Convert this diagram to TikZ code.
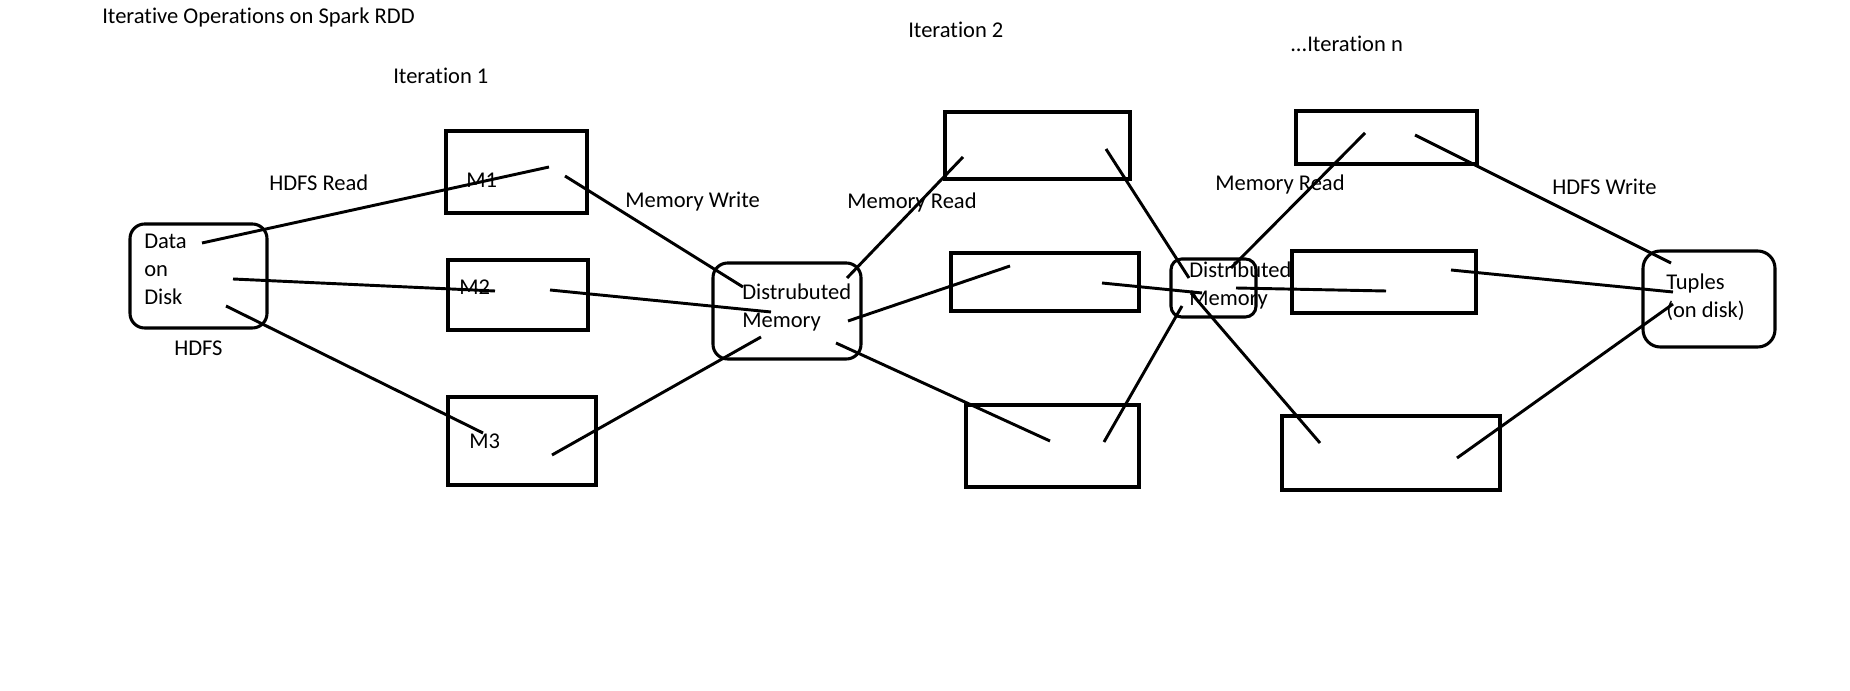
\documentclass[tikz,border=0pt]{standalone}
\usepackage{fontspec}
\setmainfont{Carlito}[Ligatures=NoCommon]
\usetikzlibrary{fit}
\begin{document}
\begin{tikzpicture}[x=0.75pt,y=-0.75pt,
  box/.style={draw, line width=2.3pt, inner sep=0pt},
  rbox/.style={box, rounded corners=11pt},
  lbl/.style={inner sep=0pt, anchor=base west, font=\fontsize{16.9}{21}\selectfont},
  ml/.style={lbl, align=left},
  wire/.style={line width=2.2pt}]
\useasboundingbox[fill=white] (0,0) rectangle (1850,691);
% boxes
\node[rbox, fit={(130,224) (267,328)}] (disk) {};
\node[box, fit={(446,131) (587,213)}] (m1) {};
\node[box, fit={(448,260) (588,330)}] (m2) {};
\node[box, fit={(448,397) (596,485)}] (m3) {};
\node[rbox, fit={(713,263) (861,359)}] (dm) {};
\node[box, fit={(945,112) (1130,179)}] (t2) {};
\node[box, fit={(951,253) (1139,311)}] (c2) {};
\node[box, fit={(966,405) (1139,487)}] (b2) {};
\node[rbox, rounded corners=8pt, fit={(1171,259) (1256,317)}] (dm2) {};
\node[box, fit={(1296,111) (1477,164)}] (tn) {};
\node[box, fit={(1292,251) (1476,313)}] (cn) {};
\node[box, fit={(1282,416) (1500,490)}] (bn) {};
\node[rbox, rounded corners=13pt, fit={(1643,251) (1775,347)}] (tup) {};
% texts (multi-line nodes are placed by the baseline of their last line)
\node[lbl] (title) at (102,24) {Iterative Operations on Spark RDD};
\node[lbl] (it1) at (393,84) {Iteration 1};
\node[lbl] (it2) at (908,38) {Iteration 2};
\node[lbl] (itn) at (1290,52) {...Iteration n};
\node[lbl] (hr) at (269,191) {HDFS Read};
\node[ml] (diskt) at (144,305) {Data\\on\\Disk};
\node[lbl] (hdfs) at (174,356) {HDFS};
\node[lbl] (m1t) at (466,188) {M1};
\node[lbl] (m2t) at (459,295) {M2};
\node[lbl] (m3t) at (469,449) {M3};
\node[lbl] (mw) at (625,208) {Memory Write};
\node[lbl] (mr1) at (847,209) {Memory Read};
\node[ml] (dmt) at (742,328) {Distrubuted\\Memory};
\node[ml] (dm2t) at (1189,306) {Distributed\\Memory};
\node[lbl] (mr2) at (1215,191) {Memory Read};
\node[lbl] (hw) at (1552,195) {HDFS Write};
\node[ml] (tupt) at (1666,318) {Tuples\\(on disk)};
% connector end points
\coordinate (a1) at (202,243); \coordinate (a2) at (549,167);
\coordinate (b1) at (233,279); \coordinate (b2e) at (495,291);
\coordinate (c1) at (226,306); \coordinate (c2e) at (483,433);
\coordinate (d1) at (565,176); \coordinate (d2) at (743,287);
\coordinate (e1) at (550,290); \coordinate (e2) at (771,312);
\coordinate (f1) at (552,455); \coordinate (f2) at (761,337);
\coordinate (g1) at (847,278); \coordinate (g2) at (963,157);
\coordinate (h1) at (848,321); \coordinate (h2) at (1010,266);
\coordinate (i1) at (836,343); \coordinate (i2) at (1050,441);
\coordinate (j1) at (1106,149); \coordinate (j2) at (1189,278);
\coordinate (k1) at (1102,283); \coordinate (k2) at (1202,293);
\coordinate (l1) at (1104,442); \coordinate (l2) at (1182,306);
\coordinate (n1) at (1231,268); \coordinate (n2) at (1365,133);
\coordinate (o1) at (1236,288); \coordinate (o2) at (1386,291);
\coordinate (p1) at (1191,293); \coordinate (p2) at (1320,443);
\coordinate (q1) at (1415,135); \coordinate (q2) at (1671,263);
\coordinate (r1) at (1451,270); \coordinate (r2) at (1673,292);
\coordinate (s1) at (1457,458); \coordinate (s2) at (1673,304);
% connectors
\draw[wire] (a1) -- (a2);
\draw[wire] (b1) -- (b2e);
\draw[wire] (c1) -- (c2e);
\draw[wire] (d1) -- (d2);
\draw[wire] (e1) -- (e2);
\draw[wire] (f1) -- (f2);
\draw[wire] (g1) -- (g2);
\draw[wire] (h1) -- (h2);
\draw[wire] (i1) -- (i2);
\draw[wire] (j1) -- (j2);
\draw[wire] (k1) -- (k2);
\draw[wire] (l1) -- (l2);
\draw[wire] (n1) -- (n2);
\draw[wire] (o1) -- (o2);
\draw[wire] (p1) -- (p2);
\draw[wire] (q1) -- (q2);
\draw[wire] (r1) -- (r2);
\draw[wire] (s1) -- (s2);
\end{tikzpicture}
\end{document}
